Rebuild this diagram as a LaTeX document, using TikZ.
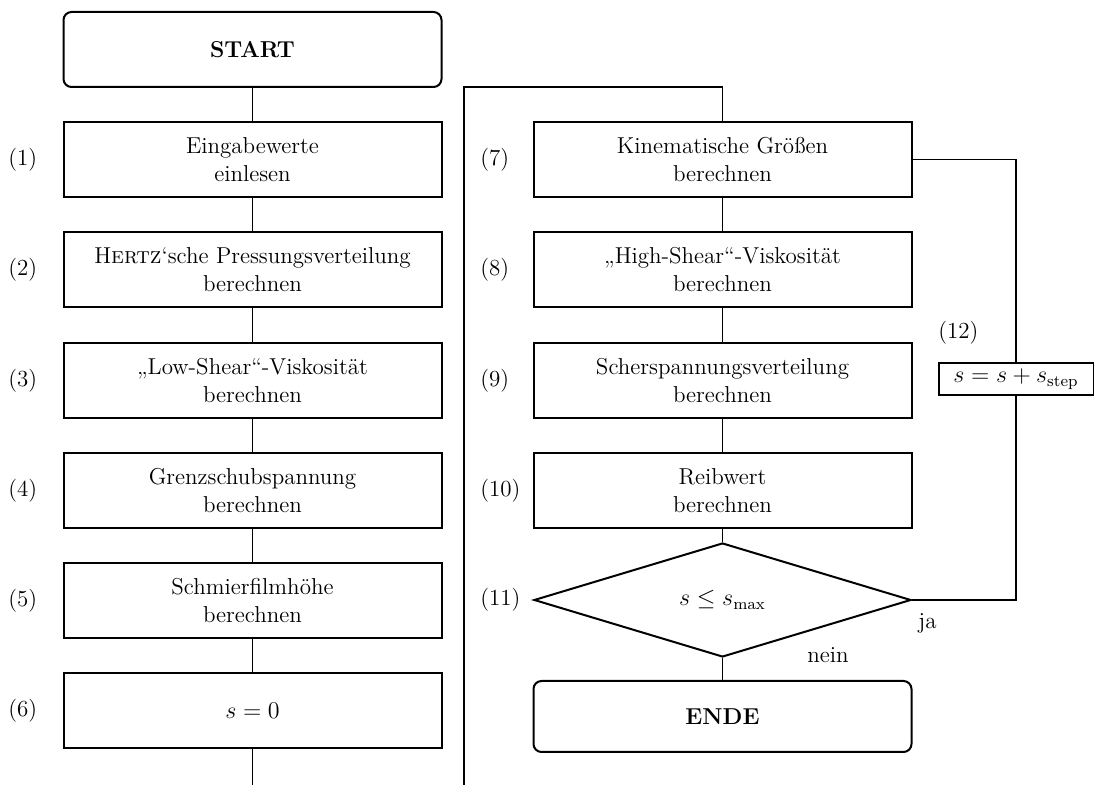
\documentclass[tikz,border=0pt]{standalone}
\usetikzlibrary{shapes.geometric}

\begin{document}
\begin{tikzpicture}[x=0.5pt,y=-0.5pt,
  every node/.style={font=\fontsize{11.5}{14}\selectfont},
  stepbox/.style={draw,line width=1pt,rectangle,align=center,
    minimum width=189pt,minimum height=37.5pt,inner sep=0pt},
  termbox/.style={stepbox,rounded corners=4pt,font=\fontsize{11.5}{14}\selectfont\bfseries},
  decbox/.style={draw,line width=1pt,diamond,inner sep=0pt,
    minimum width=188.5pt,minimum height=57pt},
  incbox/.style={draw,line width=1pt,rectangle,inner sep=0pt,
    minimum width=77.5pt,minimum height=16pt},
  numlabel/.style={anchor=west,inner sep=0pt},
  link/.style={line width=0.85pt}]

  \useasboundingbox (0,0) rectangle (1094,785);

  % left column
  \node[termbox] (start) at (252.5,49.5) {START};
  \node[stepbox] (b1) at (252.5,159.5) {Eingabewerte\\einlesen};
  \node[stepbox] (b2) at (252.5,270)   {H\textsc{ertz}‘sche Pressungsverteilung\\berechnen};
  \node[stepbox] (b3) at (252.5,380.5) {„Low-Shear“-Viskosität\\berechnen};
  \node[stepbox] (b4) at (252.5,490.5) {Grenzschubspannung\\berechnen};
  \node[stepbox] (b5) at (252.5,600.5) {Schmierfilmhöhe\\berechnen};
  \node[stepbox] (b6) at (252.5,710.5) {$s=0$};

  % right column
  \node[stepbox] (b7)  at (722.5,159.5) {Kinematische Größen\\berechnen};
  \node[stepbox] (b8)  at (722.5,270)   {„High-Shear“-Viskosität\\berechnen};
  \node[stepbox] (b9)  at (722.5,380.5) {Scherspannungsverteilung\\berechnen};
  \node[stepbox] (b10) at (722.5,490.5) {Reibwert\\berechnen};
  \node[decbox]  (d11) at (722.5,600)   {$s\leq s_{\mathrm{max}}$};
  \node[termbox,minimum height=35.5pt] (ende) at (722.5,716.5) {ENDE};
  \node[incbox]  (b12) at (1016,379)    {$s=s+s_{\mathrm{step}}$};

  % step numbers
  \node[numlabel] (n1)  at (8,159.5)   {(1)};
  \node[numlabel] (n2)  at (8,270)     {(2)};
  \node[numlabel] (n3)  at (8,380.5)   {(3)};
  \node[numlabel] (n4)  at (8,490.5)   {(4)};
  \node[numlabel] (n5)  at (8,600.5)   {(5)};
  \node[numlabel] (n6)  at (8,710.5)   {(6)};
  \node[numlabel] (n7)  at (480,159.5) {(7)};
  \node[numlabel] (n8)  at (480,270)   {(8)};
  \node[numlabel] (n9)  at (480,380.5) {(9)};
  \node[numlabel] (n10) at (480,490.5) {(10)};
  \node[numlabel] (n11) at (480,600)   {(11)};
  \node[numlabel] (n12) at (938,333)   {(12)};

  % branch labels
  \node[numlabel] (ja)   at (918,623) {ja};
  \node[numlabel] (nein) at (807,655) {nein};

  % page-break continuation points
  \coordinate (outL) at (252.5,785);
  \coordinate (outR) at (464,785);
  \coordinate (topR) at (464,87);

  % connectors
  \draw[link] (start) -- (b1);
  \draw[link] (b1) -- (b2);
  \draw[link] (b2) -- (b3);
  \draw[link] (b3) -- (b4);
  \draw[link] (b4) -- (b5);
  \draw[link] (b5) -- (b6);
  \draw[link] (b6) -- (outL);
  \draw[link] (outR) -- (topR) -| (b7.north);
  \draw[link] (b7) -- (b8);
  \draw[link] (b8) -- (b9);
  \draw[link] (b9) -- (b10);
  \draw[link] (b10) -- (d11.north);
  \draw[link] (d11.south) -- (ende);
  \draw[link] (b7.east) -| (b12.north);
  \draw[link] (b12.south) |- (d11.east);
\end{tikzpicture}
\end{document}
